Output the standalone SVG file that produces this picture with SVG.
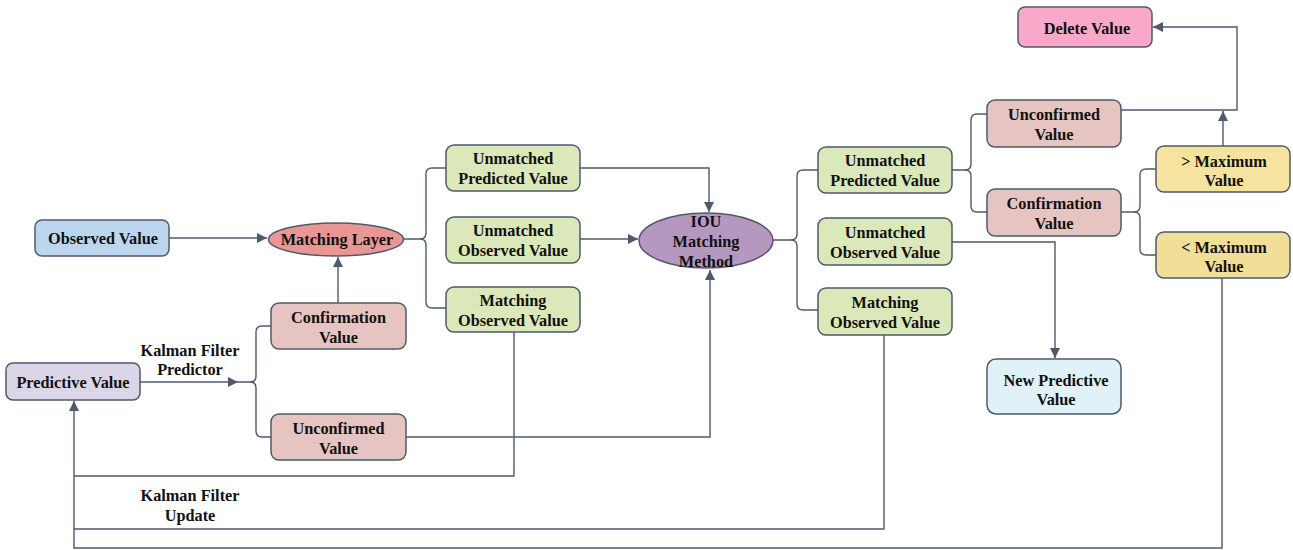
<svg xmlns="http://www.w3.org/2000/svg" width="1293" height="550" viewBox="0 0 1293 550">
  <style>
    .box { stroke: #4e5a6c; stroke-width: 1.5; }
    .t { font-family: "Liberation Serif", "Times New Roman", serif; font-weight: bold; font-size: 16.3px; fill: #111; text-anchor: middle; dominant-baseline: central; }
    .c { fill: none; stroke: #4e5a6c; stroke-width: 1.4; }
    .blue { fill: #bcd6ee; }
    .red { fill: #e99694; }
    .rose { fill: #e6c4c1; }
    .lilac { fill: #dad6e7; }
    .green { fill: #dbe8b9; }
    .purple { fill: #b597c0; }
    .yellow1 { fill: #f6e39f; }
    .yellow2 { fill: #f1df98; }
    .pink { fill: #f8a9c9; }
    .ice { fill: #e0f1f7; }
  </style>
  <defs>
    <marker id="arr" viewBox="0 0 10 10" refX="10" refY="5" markerWidth="10" markerHeight="10" markerUnits="userSpaceOnUse" orient="auto">
      <path d="M0,0 L10,5 L0,10 z" fill="#4e5a6c"/>
    </marker>
  </defs>

  <rect width="1293" height="550" fill="#ffffff"/>

  <!-- connectors -->
  <g id="connectors">
    <!-- observed to matching layer -->
    <path class="c" d="M169,238 H267" marker-end="url(#arr)"/>
    <!-- confirmation (left) up to matching layer -->
    <path class="c" d="M338,303 V257" marker-end="url(#arr)"/>
    <!-- predictive value through the predictor -->
    <path class="c" d="M140,382 H238" marker-end="url(#arr)"/>
    <path class="c" d="M238,382 H250 Q256,382 256,376 V332 Q256,326 262,326 H271"/>
    <path class="c" d="M250,382 Q256,382 256,388 V431 Q256,437 262,437 H271"/>
    <!-- matching layer split -->
    <path class="c" d="M403,239 H420 Q426,239 426,233 V174 Q426,168 432,168 H446"/>
    <path class="c" d="M420,239 Q426,239 426,245 V302 Q426,308 432,308 H446"/>
    <!-- into IOU matching -->
    <path class="c" d="M580,168 H709 V212" marker-end="url(#arr)"/>
    <path class="c" d="M580,239 H638" marker-end="url(#arr)"/>
    <path class="c" d="M406,437 H710 V270" marker-end="url(#arr)"/>
    <!-- IOU split -->
    <path class="c" d="M773,240 H791 Q797,240 797,234 V176 Q797,170 803,170 H818"/>
    <path class="c" d="M791,240 Q797,240 797,246 V304 Q797,310 803,310 H818"/>
    <!-- unmatched predicted split -->
    <path class="c" d="M952,170 H965 Q971,170 971,164 V120 Q971,114 977,114 H987"/>
    <path class="c" d="M965,170 Q971,170 971,176 V206 Q971,212 977,212 H987"/>
    <!-- confirmation (right) split -->
    <path class="c" d="M1121,212 H1134 Q1140,212 1140,206 V175 Q1140,169 1146,169 H1156"/>
    <path class="c" d="M1134,212 Q1140,212 1140,218 V249 Q1140,255 1146,255 H1156"/>
    <!-- unmatched observed to new predictive -->
    <path class="c" d="M952,242 H1055 V358" marker-end="url(#arr)"/>
    <!-- delete path -->
    <path class="c" d="M1121,110 H1237 V27 H1153" marker-end="url(#arr)"/>
    <path class="c" d="M1223,146 V111" marker-end="url(#arr)"/>
    <!-- Kalman filter update feedback -->
    <path class="c" d="M514,332 V476 H74"/>
    <path class="c" d="M884,335 V529 H74"/>
    <path class="c" d="M1222,278 V548 H74 V401" marker-end="url(#arr)"/>
  </g>

  <!-- edge labels -->
  <g id="labels">
    <text class="t" x="190" y="350">Kalman Filter</text>
    <text class="t" x="190" y="369">Predictor</text>
    <text class="t" x="190" y="495">Kalman Filter</text>
    <text class="t" x="190" y="515">Update</text>
  </g>

  <g id="observed-value">
    <rect class="box blue" x="35" y="220" width="134" height="36" rx="7"/>
    <text class="t" x="103" y="238">Observed Value</text>
  </g>
  <g id="predictive-value">
    <rect class="box lilac" x="6" y="363" width="134" height="37" rx="7"/>
    <text class="t" x="73" y="382">Predictive Value</text>
  </g>
  <g id="matching-layer">
    <ellipse class="box red" cx="336" cy="239.5" rx="67.5" ry="16.5"/>
    <text class="t" x="337" y="239.5">Matching Layer</text>
  </g>
  <g id="confirmation-left">
    <rect class="box rose" x="271" y="303" width="135" height="46" rx="8"/>
    <text class="t" x="338.5" y="317">Confirmation</text>
    <text class="t" x="338.5" y="337">Value</text>
  </g>
  <g id="unconfirmed-left">
    <rect class="box rose" x="271" y="414" width="135" height="46" rx="8"/>
    <text class="t" x="338.5" y="428">Unconfirmed</text>
    <text class="t" x="338.5" y="448">Value</text>
  </g>
  <g id="unmatched-predicted-1">
    <rect class="box green" x="446" y="145" width="134" height="46" rx="8"/>
    <text class="t" x="513" y="158">Unmatched</text>
    <text class="t" x="513" y="178">Predicted Value</text>
  </g>
  <g id="unmatched-observed-1">
    <rect class="box green" x="446" y="217" width="134" height="46" rx="8"/>
    <text class="t" x="513" y="230">Unmatched</text>
    <text class="t" x="513" y="250">Observed Value</text>
  </g>
  <g id="matching-observed-1">
    <rect class="box green" x="446" y="287" width="134" height="45" rx="8"/>
    <text class="t" x="513" y="300">Matching</text>
    <text class="t" x="513" y="320">Observed Value</text>
  </g>
  <g id="iou-matching">
    <ellipse class="box purple" cx="706" cy="240.5" rx="67" ry="27.5"/>
    <text class="t" x="706" y="221">IOU</text>
    <text class="t" x="706" y="241">Matching</text>
    <text class="t" x="706" y="261">Method</text>
  </g>
  <g id="unmatched-predicted-2">
    <rect class="box green" x="818" y="147" width="134" height="46" rx="8"/>
    <text class="t" x="885" y="160">Unmatched</text>
    <text class="t" x="885" y="180">Predicted Value</text>
  </g>
  <g id="unmatched-observed-2">
    <rect class="box green" x="818" y="218" width="134" height="47" rx="8"/>
    <text class="t" x="885" y="232">Unmatched</text>
    <text class="t" x="885" y="252">Observed Value</text>
  </g>
  <g id="matching-observed-2">
    <rect class="box green" x="818" y="288" width="134" height="47" rx="8"/>
    <text class="t" x="885" y="302">Matching</text>
    <text class="t" x="885" y="322">Observed Value</text>
  </g>
  <g id="unconfirmed-right">
    <rect class="box rose" x="987" y="100" width="134" height="47" rx="8"/>
    <text class="t" x="1054" y="114">Unconfirmed</text>
    <text class="t" x="1054" y="134">Value</text>
  </g>
  <g id="confirmation-right">
    <rect class="box rose" x="987" y="189" width="134" height="47" rx="8"/>
    <text class="t" x="1054" y="203">Confirmation</text>
    <text class="t" x="1054" y="223">Value</text>
  </g>
  <g id="new-predictive">
    <rect class="box ice" x="987" y="359" width="134" height="55" rx="9"/>
    <text class="t" x="1056" y="380">New Predictive</text>
    <text class="t" x="1056" y="399">Value</text>
  </g>
  <g id="delete-value">
    <rect class="box pink" x="1018" y="7" width="134" height="40" rx="7"/>
    <text class="t" x="1087" y="28">Delete Value</text>
  </g>
  <g id="above-maximum">
    <rect class="box yellow1" x="1156" y="146" width="134" height="46" rx="8"/>
    <text class="t" x="1224" y="161">&gt; Maximum</text>
    <text class="t" x="1224" y="180">Value</text>
  </g>
  <g id="below-maximum">
    <rect class="box yellow2" x="1156" y="232" width="134" height="46" rx="8"/>
    <text class="t" x="1224" y="247">&lt; Maximum</text>
    <text class="t" x="1224" y="266">Value</text>
  </g>
</svg>
